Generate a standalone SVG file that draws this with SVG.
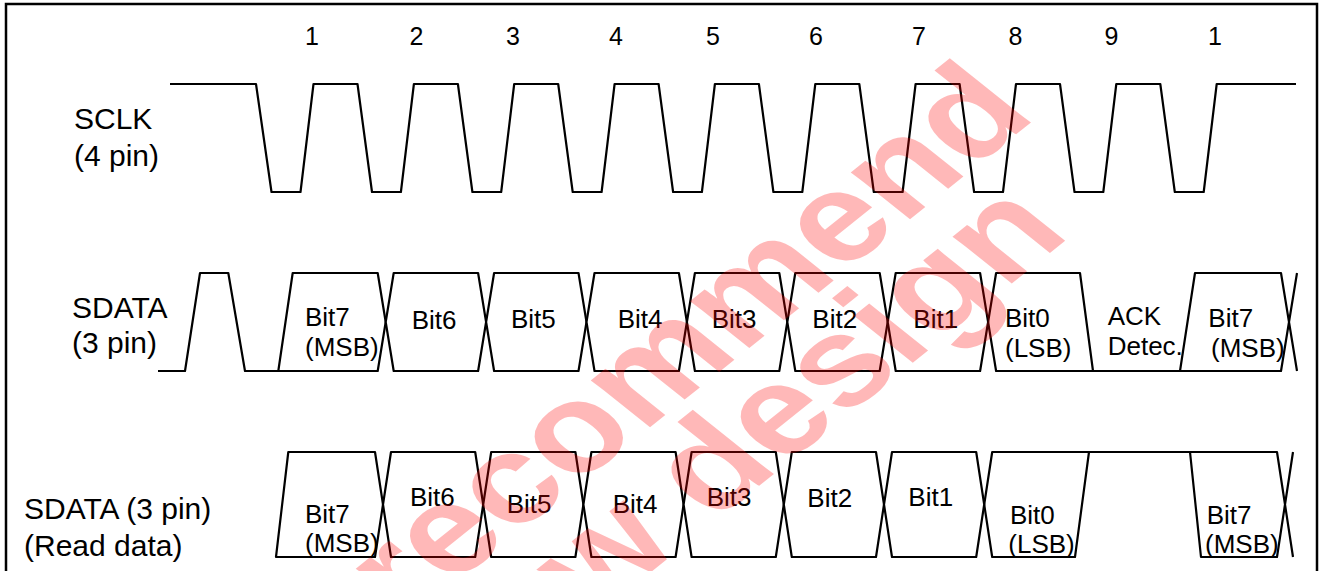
<svg xmlns="http://www.w3.org/2000/svg" width="1322" height="571" viewBox="0 0 1322 571">
<style>
.w{fill:none;stroke:#000;stroke-width:2.2;stroke-linejoin:round}
.c{fill:#fff;stroke:#000;stroke-width:2.2;stroke-linejoin:round}
.t{font-family:"Liberation Sans",Arial,sans-serif;fill:#000}
.lb{font-size:30px}
.bt{font-size:26px}
.nm{font-size:25px;text-anchor:middle}
.wm{font-family:"Liberation Sans",Arial,sans-serif;font-weight:bold;font-size:126px;fill:#ff0000;fill-opacity:0.28;text-anchor:end}
</style>
<rect x="0" y="0" width="1322" height="571" fill="#fff"/>
<rect id="frame" x="6" y="4" width="1311" height="620" fill="none" stroke="#000" stroke-width="2.5"/>

<g id="labels" class="t lb">
<text x="74" y="129">SCLK</text>
<text x="74" y="166">(4 pin)</text>
<text x="72" y="318">SDATA</text>
<text x="72" y="353">(3 pin)</text>
<text x="24" y="519">SDATA (3 pin)</text>
<text x="24" y="556">(Read data)</text>
</g>

<g id="clock-numbers" class="t nm">
<text x="312" y="45">1</text>
<text x="416.5" y="45">2</text>
<text x="513" y="45">3</text>
<text x="616" y="45">4</text>
<text x="713" y="45">5</text>
<text x="816" y="45">6</text>
<text x="919" y="45">7</text>
<text x="1015.5" y="45">8</text>
<text x="1111.5" y="45">9</text>
<text x="1215" y="45">1</text>
</g>

<g id="connectors">
<path id="sclk" class="w" d="M170,84 H256 L271.5,192 H300.5 L313.5,84 H357.5 L372,192 H400.9 L413.9,84 H457.9 L472.4,192 H501.2 L514.2,84 H558.2 L572.7,192 H601.6 L614.6,84 H658.6 L673.1,192 H701.9 L714.9,84 H758.9 L773.4,192 H802.3 L815.3,84 H859.3 L873.8,192 H902.6 L915.6,84 H959.6 L974.1,192 H1003 L1016,84 H1060 L1074.5,192 H1103.3 L1116.3,84 H1160.3 L1174.8,192 H1203.7 L1216.7,84 H1296"/>
<path id="sdata-start" class="w" d="M158,371 H185 L200,273 H228.3 L245,371 H278.3"/>
<path id="sdata-tail" class="w" d="M988.1,322 L996.1,273 H1080 L1093,371 M988.1,322 L996.1,371 H1281 L1289,322 L1281,273 H1195 L1180,371 M1297,273 L1289,322 L1297,371"/>
<path id="read-tail" class="w" d="M984.2,504.5 L992.2,557 H1075 L1089,452 M984.2,504.5 L992.2,452 H1277 L1285,504.5 L1277,557 H1201 L1190,452 M1293,452 L1285,504.5 L1293,557"/>
</g>

<g id="sdata-cells">
<g id="w-bit7"><path class="c" d="M278.3,371 L292.7,273 H377.7 L385.7,322 L377.7,371 Z"/><text class="t bt" x="305" y="326">Bit7</text><text class="t bt" x="305" y="356">(MSB)</text></g>
<g id="w-bit6"><path class="c" d="M385.7,322 L393.7,273 H478.1 L486.1,322 L478.1,371 H393.7 Z"/><text class="t bt" x="411.7" y="328.5">Bit6</text></g>
<g id="w-bit5"><path class="c" d="M486.1,322 L494.1,273 H578.5 L586.5,322 L578.5,371 H494.1 Z"/><text class="t bt" x="511" y="328">Bit5</text></g>
<g id="w-bit4"><path class="c" d="M586.5,322 L594.5,273 H678.9 L686.9,322 L678.9,371 H594.5 Z"/><text class="t bt" x="617.7" y="328">Bit4</text></g>
<g id="w-bit3"><path class="c" d="M686.9,322 L694.9,273 H779.3 L787.3,322 L779.3,371 H694.9 Z"/><text class="t bt" x="711.7" y="328">Bit3</text></g>
<g id="w-bit2"><path class="c" d="M787.3,322 L795.3,273 H879.7 L887.7,322 L879.7,371 H795.3 Z"/><text class="t bt" x="812.3" y="328">Bit2</text></g>
<g id="w-bit1"><path class="c" d="M887.7,322 L895.7,273 H980.1 L988.1,322 L980.1,371 H895.7 Z"/><text class="t bt" x="913.3" y="328">Bit1</text></g>
<g id="w-bit0"><text class="t bt" x="1005" y="327">Bit0</text><text class="t bt" x="1005" y="357">(LSB)</text></g>
<g id="w-ack"><text class="t bt" x="1107.7" y="325">ACK</text><text class="t bt" x="1107.7" y="355">Detec.</text></g>
<g id="w-bit7b"><text class="t bt" x="1208.3" y="327">Bit7</text><text class="t bt" x="1211" y="357">(MSB)</text></g>
</g>

<g id="read-cells">
<g id="r-bit7"><path class="c" d="M276,557 L288.3,452 H375 L383,504.5 L375,557 Z"/><text class="t bt" x="305" y="523">Bit7</text><text class="t bt" x="305" y="552">(MSB)</text></g>
<g id="r-bit6"><path class="c" d="M383,504.5 L391,452 H475.2 L483.2,504.5 L475.2,557 H391 Z"/><text class="t bt" x="410" y="506">Bit6</text></g>
<g id="r-bit5"><path class="c" d="M483.2,504.5 L491.2,452 H575.4 L583.4,504.5 L575.4,557 H491.2 Z"/><text class="t bt" x="506.7" y="513">Bit5</text></g>
<g id="r-bit4"><path class="c" d="M583.4,504.5 L591.4,452 H675.6 L683.6,504.5 L675.6,557 H591.4 Z"/><text class="t bt" x="612.7" y="513">Bit4</text></g>
<g id="r-bit3"><path class="c" d="M683.6,504.5 L691.6,452 H775.8 L783.8,504.5 L775.8,557 H691.6 Z"/><text class="t bt" x="706.7" y="506">Bit3</text></g>
<g id="r-bit2"><path class="c" d="M783.8,504.5 L791.8,452 H876 L884,504.5 L876,557 H791.8 Z"/><text class="t bt" x="807.3" y="507">Bit2</text></g>
<g id="r-bit1"><path class="c" d="M884,504.5 L892,452 H976.2 L984.2,504.5 L976.2,557 H892 Z"/><text class="t bt" x="908.3" y="506">Bit1</text></g>
<g id="r-bit0"><text class="t bt" x="1010" y="524">Bit0</text><text class="t bt" x="1008.3" y="553">(LSB)</text></g>
<g id="r-bit7b"><text class="t bt" x="1206.7" y="524">Bit7</text><text class="t bt" x="1205" y="553">(MSB)</text></g>
</g>

<g id="watermark" transform="scale(1.25,1)">
<text class="wm" x="830.7" y="116.7" transform="rotate(-45 830.7 116.7)">Not recommend</text>
<text class="wm" x="857.6" y="235.4" transform="rotate(-45 857.6 235.4)">for new design</text>
</g>
</svg>
